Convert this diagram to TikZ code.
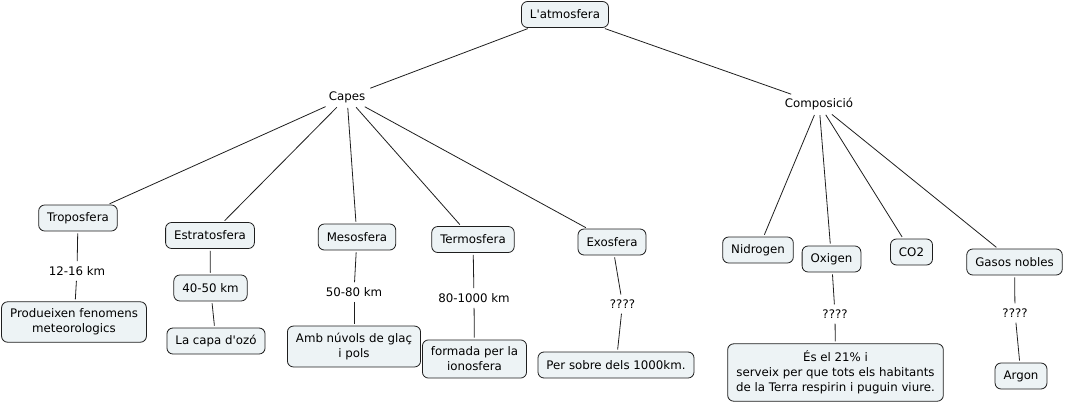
\documentclass[tikz,border=0pt]{standalone}
\usepackage{fontspec}
\setmainfont{DejaVu Sans}[Ligatures=TeXOff]
\definecolor{boxfill}{RGB}{237,243,245}
\definecolor{lnk}{RGB}{30,30,30}
\begin{document}
\begin{tikzpicture}[x=1pt,y=-1pt,font=\fontsize{11.8}{15}\selectfont,
  box/.style={draw=lnk,line width=0.8pt,fill=boxfill,rounded corners=6pt,inner xsep=8.5pt,inner ysep=7pt,minimum height=26pt,align=center},
  lab/.style={inner sep=3pt,align=center},
  con/.style={draw=lnk,line width=0.8pt,shorten <=2pt,shorten >=2pt}]
\useasboundingbox (0,0) rectangle (1065,404);

\node[box] (atm) at(565,14.5){L'atmosfera};
\node[lab] (capes) at(347,97){Capes};
\node[lab] (comp) at(819,104){Composició};

% capes
\node[box] (tropo) at(78,218){Troposfera};
\node[lab] (l1) at(77,271){12-16 km};
\node[box] (produ) at(74,322){Produeixen fenomens\\meteorologics};

\node[box] (estra) at(210,235.5){Estratosfera};
\node[box] (km) at(210.5,288){40-50 km};
\node[box] (ozo) at(216,341){La capa d'ozó};

\node[box] (meso) at(357,237){Mesosfera};
\node[lab] (l2) at(354,292){50-80 km};
\node[box] (nuvols) at(354,346.5){Amb núvols de glaç\\i pols};

\node[box] (termo) at(473,239.5){Termosfera};
\node[lab] (l3) at(474,298){80-1000 km};
\node[box] (ionos) at(474.5,359){formada per la\\ionosfera};

\node[box] (exo) at(612,242){Exosfera};
\node[lab] (l4) at(622.5,304){????};
\node[box] (sobre) at(616,365){Per sobre dels 1000km.};

% composicio
\node[box] (nidro) at(758,250){Nidrogen};
\node[box] (oxi) at(831.5,259){Oxigen};
\node[lab] (l5) at(835,314){????};
\node[box] (es21) at(835.5,372.5){És el 21\% i\\serveix per que tots els habitants\\de la Terra respirin i puguin viure.};
\node[box] (co2) at(911.5,252){CO2};
\node[box] (gasos) at(1014.5,262){Gasos nobles};
\node[lab] (l6) at(1015,313){????};
\node[box] (argon) at(1021,376){Argon};

\draw[con] (atm) -- (capes);
\draw[con] (atm) -- (comp);
\foreach \n in {tropo,estra,meso,termo,exo}
  \draw[con] (capes) -- (\n);
\foreach \n in {nidro,oxi,co2,gasos}
  \draw[con] (comp) -- (\n);
\draw[con] (tropo) -- (l1);
\draw[con] (l1) -- (produ);
\draw[con] (estra) -- (km);
\draw[con] (km) -- (ozo);
\draw[con] (meso) -- (l2);
\draw[con] (l2) -- (nuvols);
\draw[con] (termo) -- (l3);
\draw[con] (l3) -- (ionos);
\draw[con] (exo) -- (l4);
\draw[con] (l4) -- (sobre);
\draw[con] (oxi) -- (l5);
\draw[con] (l5) -- (es21);
\draw[con] (gasos) -- (l6);
\draw[con] (l6) -- (argon);
\end{tikzpicture}
\end{document}
